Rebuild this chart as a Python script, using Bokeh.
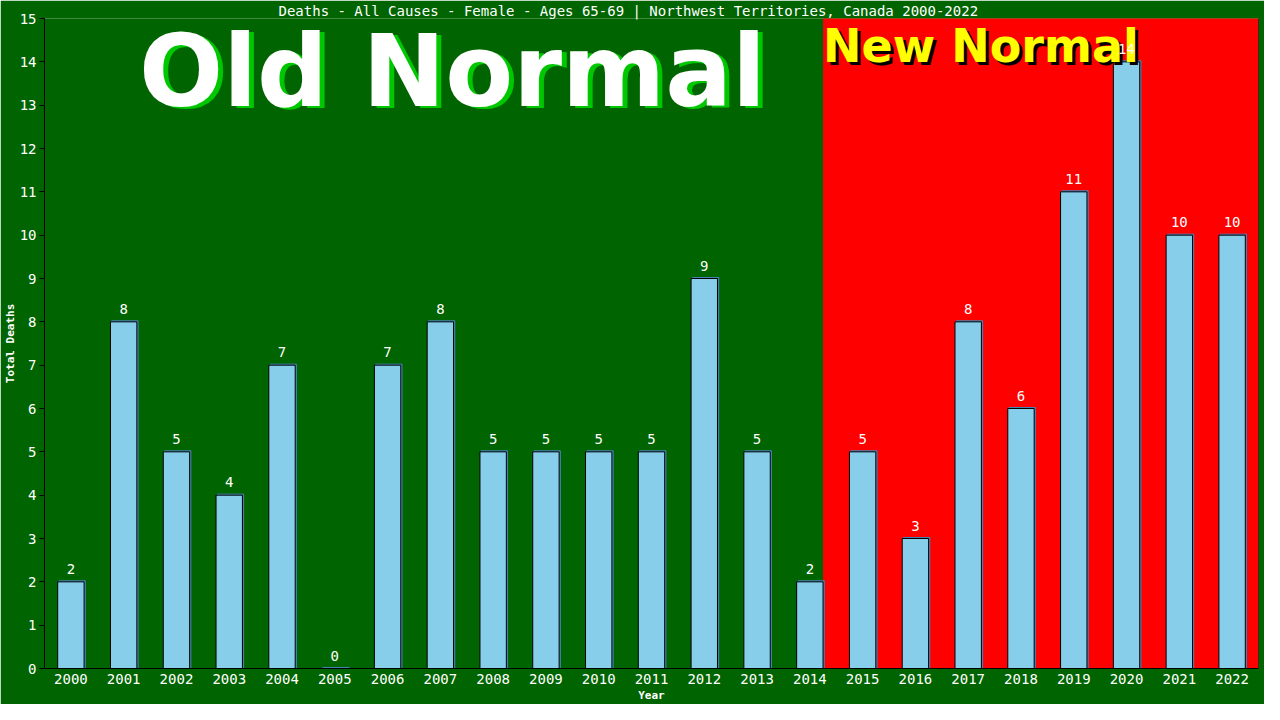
from bokeh.plotting import figure
from bokeh.models import FixedTicker, Span, Label, LabelSet, ColumnDataSource, BoxAnnotation
from bokeh.core.properties import value
from bokeh.embed import file_html
from bokeh.resources import INLINE

# ---- data ----
years = list(range(2000, 2023))
deaths = [2, 8, 5, 4, 7, 0, 7, 8, 5, 5, 5, 5, 9, 5, 2, 5, 3, 8, 6, 11, 14, 10, 10]
y_ticks = list(range(0, 16))
title_text = "Deaths - All Causes - Female - Ages 65-69 | Northwest Territories, Canada 2000-2022"
x_title = "Year"
y_title = "Total Deaths"
old_label = "Old Normal"
new_label = "New Normal"
new_normal_start = 2015

# ---- layout ----
W, H = 1264, 704
BL, BR, BT, BB = 44, 6, 0, 35
x0, x1 = years[0] - 0.5, years[-1] + 0.5
y0, y1 = 0, 15
bar_w = 0.5
frame_w = W - BL - BR
frame_h = H - 17 - BB
px_per_x = frame_w / (x1 - x0)
px_per_y = frame_h / (y1 - y0)
boundary_x = (new_normal_start - 1) + bar_w / 2

MONO = "DejaVu Sans Mono"
SANS = "DejaVu Sans"
GREEN = "#006400"
RED = "#ff0000"

p = figure(width=W, height=H, x_range=(x0, x1), y_range=(y0, y1),
           output_backend="svg", toolbar_location=None,
           min_border_left=BL, min_border_right=BR, min_border_top=BT, min_border_bottom=BB,
           border_fill_color=GREEN, background_fill_color=GREEN)
p.outline_line_color = None
p.xgrid.grid_line_color = None
p.ygrid.grid_line_color = None

# title
p.title.text = title_text
p.title.align = "left"
p.title.offset = 234
p.title.standoff = 0
p.title.text_font = MONO
p.title.text_font_size = "14px"
p.title.text_font_style = "normal"
p.title.text_color = "white"

# red "new normal" region
p.add_layout(BoxAnnotation(left=boundary_x, right=x1 + 1, bottom=-1, top=16,
                           fill_color=RED, fill_alpha=1, line_color=None, level="underlay"))

shadow_dx = 1.2 / px_per_x
shadow_dy = 1.0 / px_per_y
src = ColumnDataSource(dict(
    x=years, top=deaths, lab=[str(d) for d in deaths],
    sx=[x + shadow_dx for x in years], stop=[d + shadow_dy for d in deaths],
))

# bars with shadow
p.vbar(x="sx", top="stop", width=bar_w, bottom=0,
       source=src, fill_color="#4682b4", line_color="#4682b4", line_width=1)
p.vbar(x="x", top="top", width=bar_w, bottom=0, source=src,
       fill_color="#87ceeb", line_color="black", line_width=1)

# right border line
p.add_layout(Span(location=x1, dimension="height", line_color="black", line_width=1))

# New Normal text (middle of em box sits ~0.346 em above the baseline)
new_y = 14 + 0.346 * 46 / px_per_y
p.add_layout(Label(x=boundary_x + 3 / px_per_x, y=new_y - 3 / px_per_y, text=new_label,
                   text_align="left", text_baseline="middle", text_font=SANS,
                   text_font_style="bold", text_font_size="46px", text_color="black"))
p.add_layout(Label(x=boundary_x, y=new_y, text=new_label,
                   text_align="left", text_baseline="middle", text_font=SANS,
                   text_font_style="bold", text_font_size="46px", text_color="#ffff00"))

# value labels
p.add_layout(LabelSet(x="x", y="top", text="lab", source=src, text_align="center",
                      text_baseline="middle", y_offset=13, text_font=value(MONO),
                      text_font_size=value("14px"), text_color=value("white")))

# axes
p.xaxis.ticker = FixedTicker(ticks=years)
p.yaxis.ticker = FixedTicker(ticks=y_ticks)
for ax in (p.xaxis[0], p.yaxis[0]):
    ax.axis_line_color = "black"
    ax.major_tick_line_color = "black"
    ax.minor_tick_line_color = None
    ax.major_label_text_color = "white"
    ax.major_label_text_font = MONO
    ax.major_label_text_font_size = "14px"
    ax.axis_label_text_color = "white"
    ax.axis_label_text_font = MONO
    ax.axis_label_text_font_size = "11px"
    ax.axis_label_text_font_style = "bold"
    ax.major_tick_in = 0
p.xaxis.major_tick_out = 0
p.yaxis.major_tick_out = 5
p.xaxis.major_label_standoff = 5
p.yaxis.major_label_standoff = 3
p.xaxis.axis_label = x_title
p.yaxis.axis_label = y_title
p.xaxis.axis_label_standoff = 2
p.yaxis.axis_label_standoff = 0

# Old Normal text (last, behind nothing important)
old_x, old_y = 2007.23, 13 + 0.346 * 99 / px_per_y
p.add_layout(Label(x=old_x + 5 / px_per_x, y=old_y - 2 / px_per_y, text=old_label,
                   text_align="center", text_baseline="middle", text_font=SANS,
                   text_font_style="bold", text_font_size="99px", text_color="#00c800"))
p.add_layout(Label(x=old_x, y=old_y, text=old_label,
                   text_align="center", text_baseline="middle", text_font=SANS,
                   text_font_style="bold", text_font_size="99px", text_color="white"))

open("out.html", "w").write(file_html(p, INLINE))
